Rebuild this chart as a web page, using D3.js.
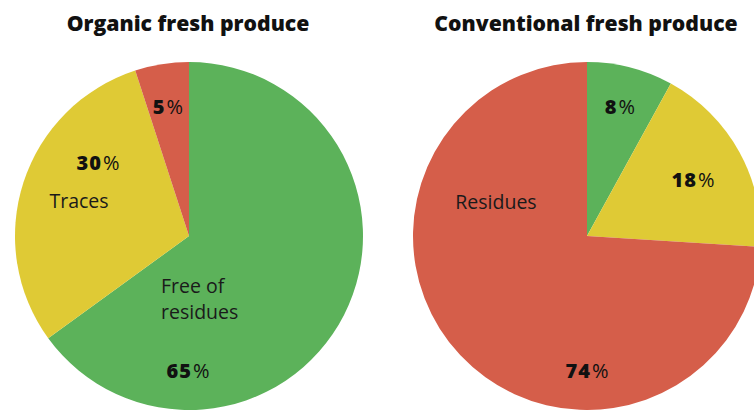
<!DOCTYPE html>
<html><head><meta charset="utf-8">
<script src="https://cdn.jsdelivr.net/npm/d3@7"></script>
<style>html,body{margin:0;padding:0;background:#fff;overflow:hidden}</style>
</head><body>
<svg id="c" width="754" height="410"></svg>
<script>
const titles = ["Organic fresh produce", "Conventional fresh produce"];
const categories = ["Free of residues", "Traces", "Residues"];
const organicValues = [65, 30, 5];
const conventionalValues = [8, 18, 74];
const colors = ["#5cb25a", "#dfca35", "#d55e4a"];
// label texts per pie (category name shown inside, or null)
const organicNames = [["Free of", "residues"], ["Traces"], null];
const conventionalNames = [null, null, ["Residues"]];

const svg = d3.select("#c");
const R = 174;
const pies = [
  {title: titles[0], values: organicValues, names: organicNames, cx: 189, cy: 236,
   pct: [[188, 378], [98, 170], [168, 114]],
   name: [[161, 293, "start"], [79, 208, "middle"], null]},
  {title: titles[1], values: conventionalValues, names: conventionalNames, cx: 587, cy: 236,
   pct: [[620, 114], [693, 187], [587, 378]],
   name: [null, null, [496, 209, "middle"]]}
];
const pie = d3.pie().sort(null).value(d => d);
const arc = d3.arc().innerRadius(0).outerRadius(R);
const font = "'Open Sans', 'DejaVu Sans', sans-serif";

pies.forEach(p => {
  const g = svg.append("g").attr("transform", `translate(${p.cx},${p.cy})`);
  g.selectAll("path").data(pie(p.values)).join("path")
    .attr("d", arc).attr("fill", (d, i) => colors[i]);
  svg.append("text").attr("x", p.cx - 1).attr("y", 31).attr("text-anchor", "middle")
    .attr("font-family", font).attr("font-weight", 800).attr("font-size", 21.2)
    .attr("fill", "#111").text(p.title);
  p.values.forEach((v, i) => {
    const t = svg.append("text").attr("x", p.pct[i][0]).attr("y", p.pct[i][1])
      .attr("text-anchor", "middle").attr("font-family", font).attr("font-size", 20)
      .attr("fill", "#111");
    t.append("tspan").attr("font-weight", 800).attr("letter-spacing", 1).text(v);
    t.append("tspan").attr("font-weight", 500).attr("dx", 1).text("%");
    if (p.names[i]) {
      const n = p.name[i];
      const tt = svg.append("text").attr("x", n[0]).attr("y", n[1]).attr("text-anchor", n[2])
        .attr("font-family", font).attr("font-size", 19.5).attr("fill", "#1a1a1a");
      p.names[i].forEach((line, k) => {
        tt.append("tspan").attr("x", n[0]).attr("dy", k === 0 ? 0 : 26).text(line);
      });
    }
  });
});
</script>
</body></html>
